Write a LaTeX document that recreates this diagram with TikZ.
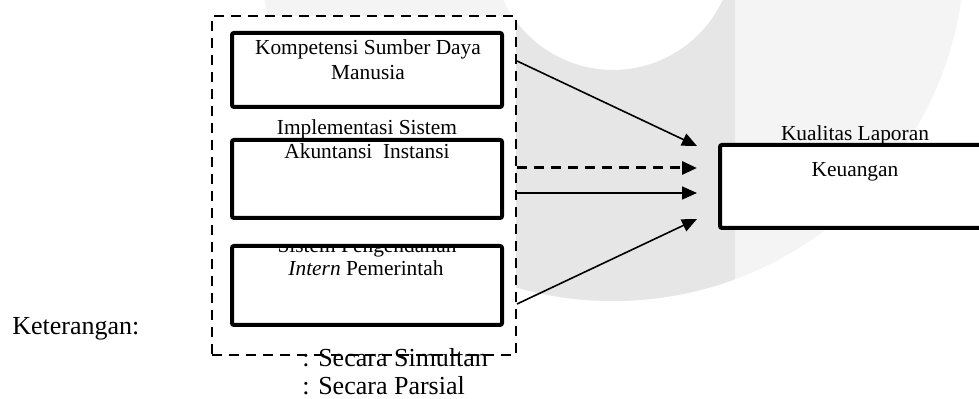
\documentclass[tikz,border=0pt]{standalone}
\usepackage{fontspec}
\setmainfont{Liberation Serif}
\usetikzlibrary{arrows.meta}
\definecolor{wmdark}{HTML}{E6E6E6}
\definecolor{wmlight}{HTML}{F4F4F4}
\begin{document}
\begin{tikzpicture}[x=0.5pt,y=-0.5pt,
 box/.style={draw=black, line width=2pt, fill=white, rounded corners=1pt, inner sep=0pt},
 group/.style={draw=black, line width=1pt, dash pattern=on 5pt off 3.5pt, fill=white, inner sep=0pt},
 lbl/.style={font=\fontsize{10.7}{12.5}\selectfont, anchor=base, inner sep=0pt},
 leg/.style={font=\fontsize{13}{15}\selectfont, anchor=base west, inner sep=0pt},
 arr/.style={line width=0.8pt, -{Triangle[length=7.5pt,width=6.5pt]}},
 darr/.style={arr, line width=1.5pt, dash pattern=on 5pt off 3.5pt}]
\useasboundingbox (0,0) rectangle (979,399);
% watermark
\begin{scope}
\clip (0,0) rectangle (979,399);
\fill[wmlight, even odd rule] (613,-51) circle[radius=176pt] (613,-51) circle[radius=60.5pt];
\begin{scope}
\clip (515,-100) rectangle (735,400);
\fill[wmdark, even odd rule] (613,-51) circle[radius=176pt] (613,-51) circle[radius=60.5pt];
\end{scope}
\end{scope}
% group box
\node[group, minimum width=152pt, minimum height=169.5pt] (grp) at (364,185.5) {};
% boxes
\node[box, minimum width=135pt, minimum height=37pt] (b1) at (367,70) {};
\node[box, minimum width=135pt, minimum height=39pt] (b2) at (367,179) {};
\node[box, minimum width=135pt, minimum height=39.5pt] (b3) at (367,285.5) {};
\begin{scope}
\clip (0,0) rectangle (979,399);
\node[box, minimum width=140pt, minimum height=41.5pt] (kl) at (860,186.5) {};
\end{scope}
% texts
\node[lbl] (t1a) at (368,55) {Kompetensi Sumber Daya};
\node[lbl] (t1b) at (368,80) {Manusia};
\node[lbl] (t2a) at (367,135) {Implementasi Sistem};
\node[lbl] (t2b) at (367,159) {Akuntansi\ \ Instansi};
\begin{scope}
\clip (232,248) rectangle (502,325);
\node[lbl] (t3a) at (367,253) {Sistem Pengendalian};
\end{scope}
\node[lbl] (t3b) at (366,276) {\textit{Intern} Pemerintah};
\node[lbl] (kla) at (855,141) {Kualitas Laporan};
\node[lbl] (klb) at (855,177) {Keuangan};
% legend
\node[leg] (ket) at (12,335) {Keterangan:};
\node[leg] (sim) at (302,367) {: Secara Simultan};
\node[leg] (par) at (302,395) {: Secara Parsial};
% connectors
\coordinate (s1) at (grp.east |- 0,61);
\coordinate (s2) at (grp.east |- 0,168);
\coordinate (s3) at (grp.east |- 0,193);
\coordinate (s4) at (grp.east |- 0,304);
\coordinate (e1) at (697,146);
\coordinate (e2) at (697,168);
\coordinate (e3) at (697,193);
\coordinate (e4) at (697,219);
\draw[arr] (s1) -- (e1);
\draw[darr] (s2) -- (e2);
\draw[arr] (s3) -- (e3);
\draw[arr] (s4) -- (e4);
\end{tikzpicture}
\end{document}
